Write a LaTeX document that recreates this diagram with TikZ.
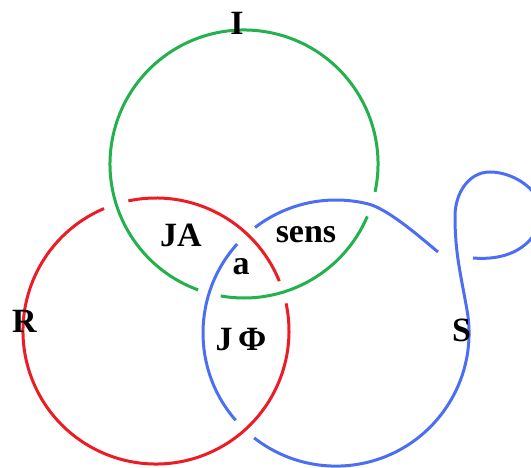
\documentclass[tikz,border=0pt]{standalone}
\usepackage{fontspec}
\setmainfont{Liberation Serif}
\usepackage{tikz}
\definecolor{kgreen}{RGB}{34,177,76}
\definecolor{kred}{RGB}{237,28,36}
\definecolor{kblue}{RGB}{76,110,245}

\begin{document}
\begin{tikzpicture}[x=1pt,y=1pt,line width=3pt,
  lbl/.style={font=\fontsize{34}{34}\selectfont\bfseries, inner sep=0pt, anchor=base}]
\useasboundingbox (0,0) rectangle (531,468);
\clip (0,0) rectangle (531,468);
\draw[color=kgreen] (244,304) ++(-12:134) arc (-12:250:134);
\draw[color=kgreen] (244,304) ++(260:134) arc (260:337:134);
\draw[color=kred] (156,137) ++(22:133) arc (22:102:133);
\draw[color=kred] (156,137) ++(113:133) arc (113:372:133);
\draw[color=kblue] (336,135) ++(127.5:133) arc (127.5:76:133)
  .. controls (388,259) and (420,231) .. (438,216);
\draw[color=kblue] (336,135) ++(221:133) arc (221:138:133);
\draw[color=kblue] (473,210) to[out=-5,in=-110] (540,245) to[out=70,in=0] (490,296)
  to[out=180,in=90] (455,252) to[out=-90,in=100] (467,158) arc (10:-128:133);
\node[lbl] (I) at (237,433) {I};
\node[lbl] (R) at (24.5,135) {R};
\node[lbl] (S) at (461.5,126) {S};
\node[lbl] (JA) at (181,221) {JA};
\node[lbl] (a) at (241,193) {a};
\node[lbl] (sens) at (306,225) {sens};
\node[lbl] (JPhi) at (241,117) {J\,Φ};
\end{tikzpicture}
\end{document}
